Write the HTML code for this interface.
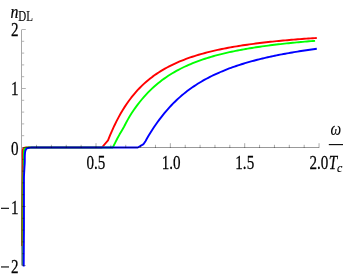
<!DOCTYPE html>
<html><head><meta charset="utf-8"><title>n_DL plot</title><style>
html,body{margin:0;padding:0;background:#fff;}
svg{display:block;font-family:"Liberation Serif",serif;}
.t{opacity:0.999;}
</style></head><body>
<svg width="346" height="277" viewBox="0 0 346 277">
<rect width="346" height="277" fill="#fff"/>
<g>
<path d="M22.30,246.00 L22.30,245.16 L22.30,244.31 L22.30,243.47 L22.31,242.63 L22.31,241.78 L22.31,240.94 L22.31,240.09 L22.31,239.25 L22.31,238.41 L22.32,237.56 L22.32,236.72 L22.32,235.88 L22.32,235.03 L22.32,234.19 L22.33,233.35 L22.33,232.50 L22.33,231.66 L22.33,230.81 L22.34,229.97 L22.34,229.13 L22.34,228.28 L22.34,227.44 L22.35,226.60 L22.35,225.75 L22.35,224.91 L22.35,224.06 L22.36,223.22 L22.36,222.38 L22.36,221.53 L22.36,220.69 L22.37,219.85 L22.37,219.00 L22.37,218.16 L22.38,217.32 L22.38,216.47 L22.38,215.63 L22.38,214.78 L22.39,213.94 L22.39,213.10 L22.39,212.25 L22.40,211.41 L22.40,210.57 L22.40,209.72 L22.41,208.88 L22.41,208.04 L22.42,207.19 L22.42,206.35 L22.42,205.50 L22.43,204.66 L22.43,203.82 L22.44,202.97 L22.44,202.13 L22.44,201.29 L22.45,200.44 L22.45,199.60 L22.46,198.76 L22.46,197.91 L22.47,197.07 L22.47,196.22 L22.48,195.38 L22.48,194.54 L22.49,193.69 L22.49,192.85 L22.50,192.01 L22.50,191.16 L22.51,190.32 L22.51,189.47 L22.52,188.63 L22.53,187.79 L22.53,186.94 L22.54,186.10 L22.55,185.26 L22.55,184.41 L22.56,183.57 L22.57,182.73 L22.57,181.88 L22.58,181.04 L22.59,180.19 L22.60,179.35 L22.60,178.51 L22.61,177.66 L22.62,176.82 L22.63,175.98 L22.65,175.13 L22.66,174.29 L22.67,173.45 L22.68,172.60 L22.69,171.76 L22.70,170.92 L22.72,170.07 L22.73,169.23 L22.74,168.38 L22.74,167.54 L22.75,166.70 L22.76,165.85 L22.77,165.01 L22.78,164.17 L22.78,163.32 L22.79,162.48 L22.80,161.64 L22.80,160.79 L22.80,159.95 L22.79,159.10 L22.77,158.26 L22.75,157.42 L22.72,156.57 L22.71,155.73 L22.70,154.89 L22.70,154.04 L22.72,153.19 L22.73,152.35 L22.76,151.51 L22.79,150.67 L22.88,149.81 L23.09,148.98 L23.51,148.30 L24.23,147.85 L25.01,147.60 L25.90,147.50 L101.90,147.50 L108.00,140.40 L110.11,135.19 L112.22,130.30 L114.33,125.71 L116.44,121.39 L118.55,117.34 L120.65,113.54 L122.76,109.97 L124.87,106.62 L126.98,103.47 L129.09,100.50 L131.20,97.70 L133.31,95.06 L135.42,92.58 L137.53,90.22 L139.64,88.00 L141.75,85.90 L143.85,83.90 L145.96,82.01 L148.07,80.22 L150.18,78.51 L152.29,76.89 L154.40,75.35 L156.51,73.88 L158.62,72.48 L160.73,71.15 L162.84,69.87 L164.95,68.66 L167.05,67.49 L169.16,66.38 L171.27,65.31 L173.38,64.29 L175.49,63.31 L177.60,62.37 L179.71,61.47 L181.82,60.61 L183.93,59.78 L186.04,58.98 L188.15,58.21 L190.25,57.47 L192.36,56.76 L194.47,56.07 L196.58,55.41 L198.69,54.77 L200.80,54.15 L202.91,53.56 L205.02,52.99 L207.13,52.43 L209.24,51.90 L211.35,51.38 L213.45,50.88 L215.56,50.40 L217.67,49.93 L219.78,49.48 L221.89,49.04 L224.00,48.61 L226.11,48.20 L228.22,47.80 L230.33,47.41 L232.44,47.03 L234.55,46.67 L236.65,46.32 L238.76,45.97 L240.87,45.64 L242.98,45.31 L245.09,45.00 L247.20,44.69 L249.31,44.39 L251.42,44.10 L253.53,43.82 L255.64,43.54 L257.75,43.28 L259.85,43.02 L261.96,42.76 L264.07,42.52 L266.18,42.28 L268.29,42.04 L270.40,41.81 L272.51,41.59 L274.62,41.37 L276.73,41.16 L278.84,40.95 L280.95,40.75 L283.05,40.56 L285.16,40.36 L287.27,40.18 L289.38,39.99 L291.49,39.81 L293.60,39.64 L295.71,39.47 L297.82,39.30 L299.93,39.14 L302.04,38.98 L304.15,38.82 L306.25,38.67 L308.36,38.52 L310.47,38.38 L312.58,38.23 L314.69,38.09 L316.80,37.96" fill="none" stroke="#ff0000" stroke-width="1.9" stroke-linejoin="round"/>
<path d="M22.85,265.50 L22.85,264.46 L22.85,263.43 L22.85,262.39 L22.85,261.36 L22.84,260.32 L22.84,259.28 L22.84,258.25 L22.84,257.21 L22.83,256.18 L22.83,255.14 L22.82,254.11 L22.82,253.07 L22.81,252.04 L22.81,251.00 L22.80,249.96 L22.78,248.93 L22.76,247.89 L22.73,246.86 L22.69,245.82" fill="none" stroke="#3f8f55" stroke-width="1.9" stroke-linejoin="round"/>
<path d="M22.69,245.82 L22.65,244.79 L22.59,243.75 L22.54,242.72 L22.51,241.68 L22.50,240.65 L22.50,239.61 L22.50,238.58 L22.50,237.54 L22.50,236.51 L22.50,235.47 L22.50,234.43 L22.50,233.40 L22.50,232.36 L22.50,231.33 L22.50,230.29 L22.50,229.26 L22.50,228.22 L22.50,227.18 L22.50,226.15 L22.50,225.11 L22.50,224.08 L22.50,223.04 L22.50,222.01 L22.50,220.97 L22.51,219.93 L22.51,218.90 L22.51,217.86 L22.51,216.83 L22.52,215.79 L22.52,214.76 L22.52,213.72 L22.53,212.68 L22.53,211.65 L22.54,210.61 L22.54,209.58 L22.55,208.54 L22.56,207.51 L22.56,206.47 L22.57,205.43 L22.57,204.40 L22.58,203.36 L22.59,202.33 L22.59,201.29 L22.60,200.26 L22.61,199.22 L22.61,198.18 L22.62,197.15 L22.63,196.11 L22.64,195.08 L22.65,194.04 L22.66,193.01 L22.67,191.97 L22.69,190.93 L22.70,189.90 L22.71,188.86 L22.73,187.83 L22.75,186.79 L22.76,185.75 L22.78,184.72 L22.80,183.68 L22.82,182.65 L22.84,181.61 L22.86,180.58 L22.89,179.54 L22.91,178.51 L22.95,177.47 L22.99,176.44 L23.03,175.40 L23.09,174.37 L23.14,173.34 L23.20,172.30 L23.26,171.27 L23.32,170.23 L23.38,169.20 L23.44,168.16 L23.49,167.13 L23.55,166.10 L23.62,165.06" fill="none" stroke="#00ff00" stroke-opacity="0.6" stroke-width="1.9" stroke-linejoin="round"/>
<path d="M23.62,165.06 L23.69,164.03 L23.75,162.99 L23.80,161.96 L23.84,160.92 L23.85,159.89 L23.84,158.85 L23.83,157.82 L23.81,156.78 L23.80,155.75 L23.80,154.71 L23.83,153.67 L23.88,152.63 L23.95,151.60 L24.05,150.57 L24.30,149.53 L24.73,148.63 L25.55,147.98 L26.53,147.74 L27.59,147.61 L28.62,147.55 L29.66,147.51 L30.70,147.50 L112.40,147.50 L113.20,146.63 L115.24,142.59 L117.31,138.55 L119.47,134.58 L121.74,130.70 L123.90,126.94 L125.82,123.32 L127.65,119.85 L129.57,116.51 L131.57,113.33 L133.60,110.29 L135.63,107.39 L137.67,104.63 L139.71,102.00 L141.75,99.50 L143.79,97.11 L145.83,94.84 L147.87,92.68 L149.91,90.61 L151.95,88.65 L153.99,86.77 L156.03,84.99 L158.07,83.28 L160.11,81.65 L162.15,80.09 L164.18,78.61 L166.22,77.18 L168.26,75.82 L170.30,74.52 L172.34,73.27 L174.38,72.07 L176.42,70.92 L178.46,69.81 L180.50,68.76 L182.54,67.74 L184.58,66.76 L186.62,65.82 L188.66,64.91 L190.70,64.04 L192.74,63.20 L194.78,62.40 L196.82,61.62 L198.85,60.87 L200.89,60.14 L202.93,59.44 L204.97,58.77 L207.01,58.11 L209.05,57.48 L211.09,56.87 L213.13,56.28 L215.17,55.71 L217.21,55.16 L219.25,54.62 L221.29,54.10 L223.33,53.60 L225.37,53.12 L227.41,52.64 L229.45,52.19 L231.48,51.74 L233.52,51.31 L235.56,50.89 L237.60,50.49 L239.64,50.09 L241.68,49.71 L243.72,49.34 L245.76,48.97 L247.80,48.62 L249.84,48.28 L251.88,47.94 L253.92,47.62 L255.96,47.30 L258.00,46.99 L260.04,46.69 L262.08,46.40 L264.12,46.12 L266.15,45.84 L268.19,45.57 L270.23,45.31 L272.27,45.05 L274.31,44.80 L276.35,44.55 L278.39,44.31 L280.43,44.08 L282.47,43.85 L284.51,43.63 L286.55,43.41 L288.59,43.20 L290.63,42.99 L292.67,42.79 L294.71,42.59 L296.75,42.40 L298.78,42.21 L300.82,42.03 L302.86,41.84 L304.90,41.67 L306.94,41.49 L308.98,41.32 L311.02,41.16 L313.06,41.00 L315.10,40.84" fill="none" stroke="#00ff00" stroke-width="1.9" stroke-linejoin="round"/>
<path d="M23.70,266.50 L23.71,265.44 L23.71,264.38 L23.72,263.32 L23.72,262.26 L23.73,261.20 L23.74,260.14 L23.74,259.07 L23.75,258.01 L23.75,256.95 L23.76,255.89 L23.77,254.83 L23.77,253.77 L23.78,252.71 L23.79,251.65 L23.79,250.59 L23.80,249.53 L23.81,248.47 L23.81,247.41 L23.82,246.34 L23.82,245.28 L23.83,244.22 L23.84,243.16 L23.84,242.10 L23.85,241.04 L23.86,239.98 L23.86,238.92 L23.87,237.86 L23.88,236.80 L23.89,235.74 L23.90,234.68 L23.91,233.61 L23.92,232.55 L23.92,231.49 L23.93,230.43 L23.94,229.37 L23.94,228.31 L23.95,227.25 L23.95,226.19 L23.95,225.13 L23.95,224.07 L23.95,223.01 L23.95,221.95 L23.95,220.88 L23.95,219.82 L23.95,218.76 L23.95,217.70 L23.95,216.64 L23.95,215.58 L23.95,214.52 L23.95,213.46 L23.95,212.40 L23.95,211.34 L23.95,210.28 L23.95,209.22 L23.95,208.15 L23.95,207.09 L23.95,206.03 L23.95,204.97 L23.95,203.91 L23.95,202.85 L23.95,201.79 L23.95,200.73 L23.95,199.67 L23.95,198.61 L23.95,197.55 L23.95,196.48 L23.95,195.42 L23.95,194.36 L23.95,193.30 L23.95,192.24 L23.95,191.18 L23.95,190.12 L23.95,189.06 L23.95,188.00 L23.95,186.94 L23.95,185.88 L23.95,184.81 L23.95,183.75 L23.95,182.69 L23.95,181.63 L23.95,180.57 L23.95,179.51 L23.95,178.45 L23.97,177.39 L23.99,176.33 L24.03,175.27 L24.07,174.21 L24.13,173.15 L24.18,172.09 L24.24,171.03 L24.30,169.97 L24.35,168.91 L24.41,167.85 L24.47,166.79 L24.55,165.73 L24.62,164.68 L24.69,163.62 L24.74,162.56 L24.76,161.50 L24.77,160.44 L24.77,159.37 L24.78,158.31 L24.78,157.25 L24.80,156.19 L24.83,155.13 L24.90,154.07 L24.99,153.01 L25.13,151.96 L25.36,150.91 L25.68,149.92 L26.26,149.00 L27.06,148.34 L28.05,147.95 L29.09,147.74 L30.16,147.61 L31.21,147.57 L32.27,147.53 L33.33,147.51 L34.40,147.50 L137.80,147.50 L143.56,144.11 L145.45,141.16 L147.09,138.26 L148.70,135.41 L150.41,132.63 L152.16,129.92 L153.91,127.29 L155.66,124.73 L157.41,122.26 L159.16,119.86 L160.92,117.55 L162.67,115.32 L164.42,113.16 L166.17,111.08 L167.92,109.07 L169.67,107.13 L171.42,105.26 L173.18,103.46 L174.93,101.72 L176.68,100.04 L178.43,98.42 L180.18,96.85 L181.93,95.34 L183.68,93.88 L185.44,92.47 L187.19,91.11 L188.94,89.79 L190.69,88.52 L192.44,87.29 L194.19,86.10 L195.95,84.94 L197.70,83.82 L199.45,82.74 L201.20,81.69 L202.95,80.67 L204.70,79.69 L206.45,78.73 L208.21,77.80 L209.96,76.90 L211.71,76.02 L213.46,75.17 L215.21,74.34 L216.96,73.54 L218.72,72.76 L220.47,72.00 L222.22,71.26 L223.97,70.54 L225.72,69.83 L227.47,69.15 L229.22,68.48 L230.98,67.84 L232.73,67.20 L234.48,66.59 L236.23,65.99 L237.98,65.40 L239.73,64.83 L241.48,64.27 L243.24,63.72 L244.99,63.19 L246.74,62.67 L248.49,62.16 L250.24,61.66 L251.99,61.18 L253.75,60.71 L255.50,60.24 L257.25,59.79 L259.00,59.34 L260.75,58.91 L262.50,58.48 L264.25,58.07 L266.01,57.66 L267.76,57.26 L269.51,56.87 L271.26,56.49 L273.01,56.12 L274.76,55.75 L276.52,55.39 L278.27,55.04 L280.02,54.69 L281.77,54.36 L283.52,54.02 L285.27,53.70 L287.02,53.38 L288.78,53.07 L290.53,52.76 L292.28,52.46 L294.03,52.16 L295.78,51.87 L297.53,51.59 L299.28,51.31 L301.04,51.03 L302.79,50.76 L304.54,50.50 L306.29,50.24 L308.04,49.98 L309.79,49.73 L311.55,49.48 L313.30,49.24 L315.05,49.00 L316.80,48.77" fill="none" stroke="#0000ff" stroke-width="1.9" stroke-linejoin="round"/>
</g>
<g stroke="#000" stroke-width="1.0" fill="none">
<path d="M21.5,29.5 V265.5" stroke-opacity="0.34"/>
<path d="M22.0,147.5 H318.9" stroke-opacity="0.4"/>
<g stroke-opacity="0.33">
<line x1="36.52" y1="148.0" x2="36.52" y2="144.8"/>
<line x1="51.39" y1="148.0" x2="51.39" y2="144.8"/>
<line x1="66.26" y1="148.0" x2="66.26" y2="144.8"/>
<line x1="81.13" y1="148.0" x2="81.13" y2="144.8"/>
<line x1="96.00" y1="148.0" x2="96.00" y2="143.2"/>
<line x1="110.87" y1="148.0" x2="110.87" y2="144.8"/>
<line x1="125.74" y1="148.0" x2="125.74" y2="144.8"/>
<line x1="140.61" y1="148.0" x2="140.61" y2="144.8"/>
<line x1="155.48" y1="148.0" x2="155.48" y2="144.8"/>
<line x1="170.35" y1="148.0" x2="170.35" y2="143.2"/>
<line x1="185.22" y1="148.0" x2="185.22" y2="144.8"/>
<line x1="200.09" y1="148.0" x2="200.09" y2="144.8"/>
<line x1="214.96" y1="148.0" x2="214.96" y2="144.8"/>
<line x1="229.83" y1="148.0" x2="229.83" y2="144.8"/>
<line x1="244.70" y1="148.0" x2="244.70" y2="143.2"/>
<line x1="259.57" y1="148.0" x2="259.57" y2="144.8"/>
<line x1="274.44" y1="148.0" x2="274.44" y2="144.8"/>
<line x1="289.31" y1="148.0" x2="289.31" y2="144.8"/>
<line x1="304.18" y1="148.0" x2="304.18" y2="144.8"/>
<line x1="319.05" y1="148.0" x2="319.05" y2="143.2"/>
</g>
<g stroke-opacity="0.3">
<line x1="22.0" y1="265.50" x2="25.8" y2="265.50"/>
<line x1="22.0" y1="253.70" x2="24.2" y2="253.70"/>
<line x1="22.0" y1="241.90" x2="24.2" y2="241.90"/>
<line x1="22.0" y1="230.10" x2="24.2" y2="230.10"/>
<line x1="22.0" y1="218.30" x2="24.2" y2="218.30"/>
<line x1="22.0" y1="206.50" x2="25.8" y2="206.50"/>
<line x1="22.0" y1="194.70" x2="24.2" y2="194.70"/>
<line x1="22.0" y1="182.90" x2="24.2" y2="182.90"/>
<line x1="22.0" y1="171.10" x2="24.2" y2="171.10"/>
<line x1="22.0" y1="159.30" x2="24.2" y2="159.30"/>
<line x1="22.0" y1="135.70" x2="24.2" y2="135.70"/>
<line x1="22.0" y1="123.90" x2="24.2" y2="123.90"/>
<line x1="22.0" y1="112.10" x2="24.2" y2="112.10"/>
<line x1="22.0" y1="100.30" x2="24.2" y2="100.30"/>
<line x1="22.0" y1="88.50" x2="25.8" y2="88.50"/>
<line x1="22.0" y1="76.70" x2="24.2" y2="76.70"/>
<line x1="22.0" y1="64.90" x2="24.2" y2="64.90"/>
<line x1="22.0" y1="53.10" x2="24.2" y2="53.10"/>
<line x1="22.0" y1="41.30" x2="24.2" y2="41.30"/>
<line x1="22.0" y1="29.50" x2="25.8" y2="29.50"/>
</g>
</g>
<line x1="1.0" y1="208.3" x2="9.0" y2="208.3" stroke="#000" stroke-width="1.1"/>
<line x1="1.0" y1="266.95" x2="9.0" y2="266.95" stroke="#000" stroke-width="1.1"/>
<line x1="328.8" y1="144.6" x2="343" y2="144.6" stroke="#111" stroke-width="1.15"/>
<g class="t" fill="#000" stroke="#000" stroke-width="0.2">
<text transform="translate(95.85,168.8) scale(1,1.295)" text-anchor="middle" font-size="15.1" >0.5</text>
<text transform="translate(171.2,168.8) scale(1,1.295)" text-anchor="middle" font-size="15.1" >1.0</text>
<text transform="translate(244.75,168.8) scale(1,1.295)" text-anchor="middle" font-size="15.1" >1.5</text>
<text transform="translate(309.5,168.8) scale(1,1.295)" text-anchor="start" font-size="15.1" >2.0</text>
<text transform="translate(328.7,168.8) scale(1,1.295)" text-anchor="start" font-size="15.1" font-style="italic">T</text>
<text transform="translate(337.0,171.5) scale(1,1.02)" text-anchor="start" font-size="12" font-style="italic" stroke-width="0.15">c</text>
<text transform="translate(330.5,135.0) scale(1,1.295)" text-anchor="start" font-size="15.1" font-style="italic" stroke-width="0.1">ω</text>
<text transform="translate(18.5,36.1) scale(1,1.295)" text-anchor="end" font-size="15.1" >2</text>
<text transform="translate(18.5,94.9) scale(1,1.295)" text-anchor="end" font-size="15.1" >1</text>
<text transform="translate(18.5,154.5) scale(1,1.295)" text-anchor="end" font-size="15.1" >0</text>
<text transform="translate(18.5,213.5) scale(1,1.295)" text-anchor="end" font-size="15.1" >1</text>
<text transform="translate(18.5,272.8) scale(1,1.295)" text-anchor="end" font-size="15.1" >2</text>
<text transform="translate(10.4,18.2) scale(1,1.18)" text-anchor="start" font-size="15.8" font-style="italic">n</text>
<text transform="translate(18.2,20.85) scale(1,1.31)" text-anchor="start" font-size="11.0" stroke-width="0.1">DL</text>
</g>
</svg>
</body></html>
